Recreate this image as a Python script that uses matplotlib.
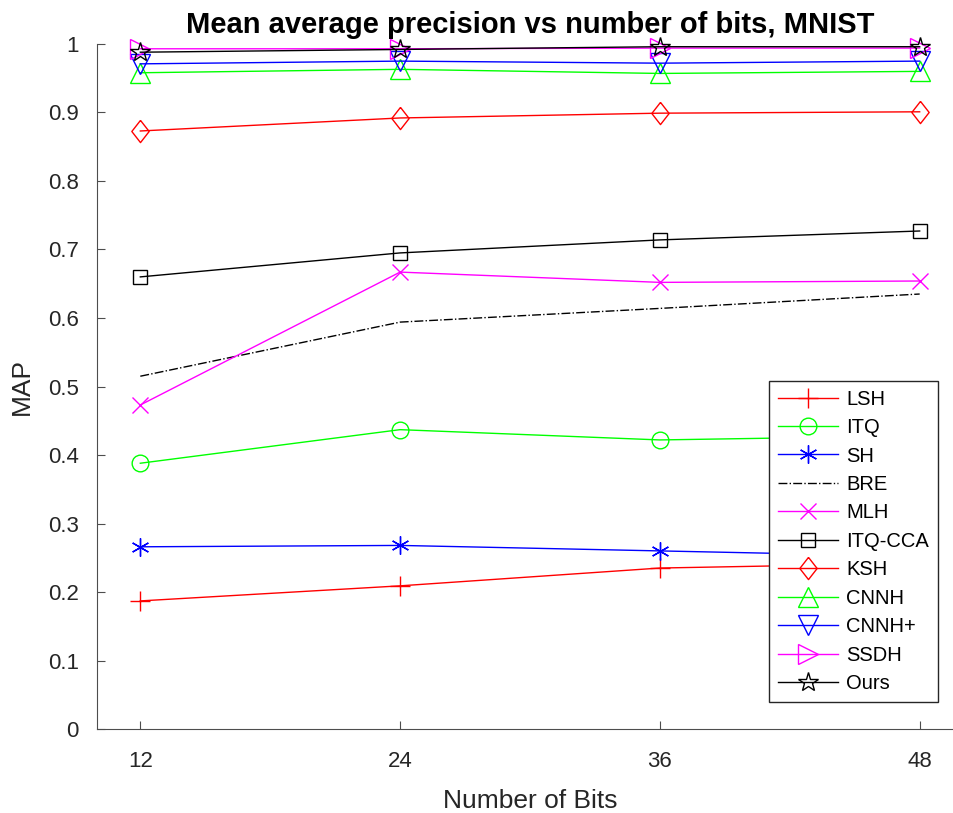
import matplotlib
matplotlib.use("Agg")
import matplotlib.pyplot as plt

plt.rcParams["font.family"] = ["Liberation Sans", "DejaVu Sans"]

bits = [12, 24, 36, 48]

methods = ["LSH", "ITQ", "SH", "BRE", "MLH", "ITQ-CCA", "KSH", "CNNH", "CNNH+", "SSDH", "Ours"]
lsh = [0.187, 0.209, 0.235, 0.242]
itq = [0.388, 0.437, 0.422, 0.428]
sh = [0.266, 0.268, 0.260, 0.252]
bre = [0.515, 0.594, 0.614, 0.635]
mlh = [0.473, 0.667, 0.652, 0.654]
itq_cca = [0.660, 0.695, 0.714, 0.727]
ksh = [0.873, 0.892, 0.899, 0.901]
cnnh = [0.958, 0.963, 0.957, 0.960]
cnnh_plus = [0.971, 0.975, 0.972, 0.975]
ssdh = [0.993, 0.993, 0.994, 0.994]
ours = [0.988, 0.992, 0.996, 0.996]

series = [lsh, itq, sh, bre, mlh, itq_cca, ksh, cnnh, cnnh_plus, ssdh, ours]
colors = ["#ff0000", "#00ff00", "#0000ff", "black", "#ff00ff", "black",
          "#ff0000", "#00ff00", "#0000ff", "#ff00ff", "black"]
# matlab style diamond is a bit narrower than a rotated square
diamond = [(0, 1), (0.78, 0), (0, -1), (-0.78, 0), (0, 1)]
markers = ["+", "o", (6, 2, 0), None, "x", "s", diamond, "^", "v", ">", "*"]
msizes = [14, 12, 13, 0, 11, 10, 16, 14, 14, 14, 15]
styles = ["-", "-", "-", "-.", "-", "-", "-", "-", "-", "-", "-"]

fig = plt.figure(figsize=(9.54, 8.13), dpi=100)
ax = fig.add_axes([0.1017, 0.1033, 0.9077, 0.8426])

for name, vals, c, m, ms, ls in zip(methods, series, colors, markers, msizes, styles):
    ax.plot(bits, vals, color=c, marker=m, markersize=ms, linestyle=ls,
            linewidth=1.0, markerfacecolor="none", markeredgewidth=1.0,
            label=name, clip_on=False)

ax.set_xlim(10, 50)
ax.set_ylim(0, 1)
ax.set_xticks(bits)
ax.set_yticks([i / 10 for i in range(11)])
ax.set_yticklabels(["0", "0.1", "0.2", "0.3", "0.4", "0.5", "0.6", "0.7", "0.8", "0.9", "1"])
ax.tick_params(direction="in", labelsize=16, colors="#4d4d4d", labelcolor="#262626",
               length=6, pad=13)
ax.tick_params(axis="x", pad=16)
for side in ["top", "right"]:
    ax.spines[side].set_visible(False)
for side in ["left", "bottom"]:
    ax.spines[side].set_color("#4d4d4d")

ax.set_xlabel("Number of Bits", fontsize=19, color="#262626", labelpad=12)
ax.set_ylabel("MAP", fontsize=19, color="#262626", labelpad=10)
ax.set_title("Mean average precision vs number of bits, MNIST", fontsize=21,
             fontweight="bold", pad=8)

leg = ax.legend(loc="lower right", bbox_to_anchor=(0.971, 0.039), borderaxespad=0,
                fontsize=14.5, fancybox=False, edgecolor="#262626", framealpha=1,
                handlelength=3.0, handletextpad=0.4, labelspacing=0.47, borderpad=0.45)
leg.get_frame().set_linewidth(1.0)

fig.savefig("out.png", dpi=100)
